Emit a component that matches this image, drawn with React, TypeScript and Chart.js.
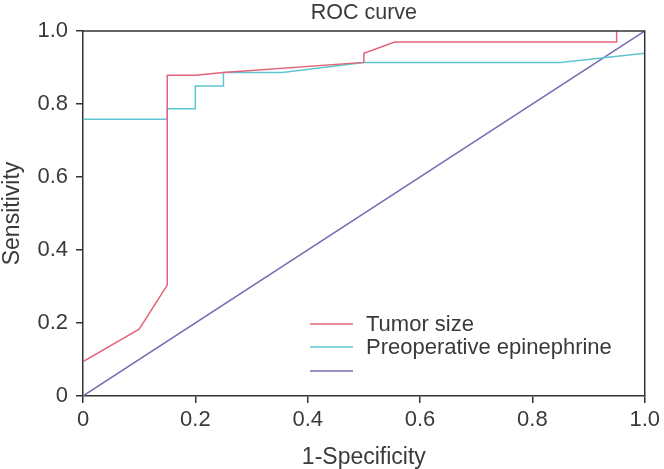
import React, { useEffect, useRef } from "react";
import { Chart, registerables } from "chart.js";

Chart.register(...registerables);

// ---- data ----
const tumorX = [0, 0.1, 0.15, 0.15, 0.2, 0.25, 0.5, 0.5, 0.555, 0.95, 0.95];
const tumorY = [0.094, 0.183, 0.304, 0.879, 0.879, 0.886, 0.914, 0.939, 0.97, 0.97, 1.0];
const epiX = [0, 0.15, 0.15, 0.2, 0.2, 0.25, 0.25, 0.355, 0.5, 0.85, 1.0];
const epiY = [0.758, 0.758, 0.787, 0.787, 0.849, 0.849, 0.886, 0.886, 0.914, 0.914, 0.939];
const refX = [0, 1];
const refY = [0, 1];
const seriesLabels = ["Tumor size", "Preoperative epinephrine", ""];
const seriesColors = ["#e4637a", "#5ec6cf", "#7a6db3"];
const tickValues = [0, 0.2, 0.4, 0.6, 0.8, 1.0];
const chartTitle = "ROC curve";
const xTitle = "1-Specificity";
const yTitle = "Sensitivity";

const FONT = "'Liberation Sans', Arial, sans-serif";
const TEXT = "#3a3a3a";
const AXIS = "#333333";

const pts = (xs: number[], ys: number[]) => xs.map((x, i) => ({ x, y: ys[i] }));
const fmt = (v: number) => (v === 0 ? "0" : v.toFixed(1));

const framePlugin = {
  id: "frame",
  afterDraw(chart: any) {
    const { ctx, chartArea } = chart;
    const { left, right, top, bottom } = chartArea;
    ctx.save();
    // top & right border
    ctx.strokeStyle = AXIS;
    ctx.lineWidth = 1.5;
    ctx.beginPath();
    ctx.moveTo(left, top);
    ctx.lineTo(right, top);
    ctx.lineTo(right, bottom);
    ctx.stroke();
    // title
    ctx.fillStyle = TEXT;
    ctx.font = `21.5px ${FONT}`;
    ctx.textAlign = "center";
    ctx.textBaseline = "middle";
    ctx.fillText(chartTitle, (left + right) / 2, 13);
    // legend
    const lx0 = 310;
    const lx1 = 353;
    const tx = 366;
    const rows = [324, 347, 371];
    ctx.font = `22px ${FONT}`;
    ctx.textAlign = "left";
    chart.data.datasets.forEach((ds: any, i: number) => {
      const y = rows[i];
      ctx.strokeStyle = ds.borderColor;
      ctx.lineWidth = 1.5;
      ctx.beginPath();
      ctx.moveTo(lx0, y);
      ctx.lineTo(lx1, y);
      ctx.stroke();
      ctx.fillStyle = TEXT;
      ctx.fillText(ds.label, tx, y + 1);
    });
    ctx.restore();
  },
};

export default function App() {
  const ref = useRef<HTMLCanvasElement | null>(null);

  useEffect(() => {
    document.body.style.margin = "0";
    const canvas = ref.current!;
    const datasets = [
      { label: seriesLabels[0], data: pts(tumorX, tumorY), borderColor: seriesColors[0] },
      { label: seriesLabels[1], data: pts(epiX, epiY), borderColor: seriesColors[1] },
      { label: seriesLabels[2], data: pts(refX, refY), borderColor: seriesColors[2] },
    ].map((d) => ({ ...d, borderWidth: 1.5, pointRadius: 0, fill: false, tension: 0 }));

    const chart = new Chart(canvas, {
      type: "line",
      data: { datasets },
      plugins: [framePlugin],
      options: {
        responsive: false,
        animation: false,
        devicePixelRatio: 1,
        layout: { padding: { left: 0, right: 18, top: 31, bottom: 0 } },
        plugins: { legend: { display: false }, title: { display: false }, tooltip: { enabled: false } },
        scales: {
          x: {
            type: "linear",
            min: 0,
            max: 1,
            afterBuildTicks: (s: any) => {
              s.ticks = tickValues.map((v) => ({ value: v }));
            },
            afterFit: (s: any) => {
              s.height = 73;
            },
            ticks: {
              callback: (v: any) => fmt(Number(v)),
              font: { family: FONT, size: 22 },
              color: TEXT,
              padding: 4,
              maxRotation: 0,
            },
            grid: { drawOnChartArea: false, drawTicks: true, tickLength: 7, color: AXIS, lineWidth: 1.5 },
            border: { display: true, color: AXIS, width: 1.5 },
            title: { display: true, text: xTitle, font: { family: FONT, size: 23 }, color: TEXT, padding: { top: 0, bottom: -2 } },
          },
          y: {
            type: "linear",
            min: 0,
            max: 1,
            afterBuildTicks: (s: any) => {
              s.ticks = tickValues.map((v) => ({ value: v }));
            },
            afterFit: (s: any) => {
              s.width = 83;
            },
            ticks: {
              callback: (v: any) => fmt(Number(v)),
              font: { family: FONT, size: 22 },
              color: TEXT,
              padding: 8,
            },
            grid: { drawOnChartArea: false, drawTicks: true, tickLength: 7, color: AXIS, lineWidth: 1.5 },
            border: { display: true, color: AXIS, width: 1.5 },
            title: { display: true, text: yTitle, font: { family: FONT, size: 23 }, color: TEXT, padding: { top: -1, bottom: 0 } },
          },
        },
      },
    });
    return () => chart.destroy();
  }, []);

  return (
    <div style={{ width: 664, height: 469 }}>
      <canvas ref={ref} width={664} height={469} />
    </div>
  );
}
